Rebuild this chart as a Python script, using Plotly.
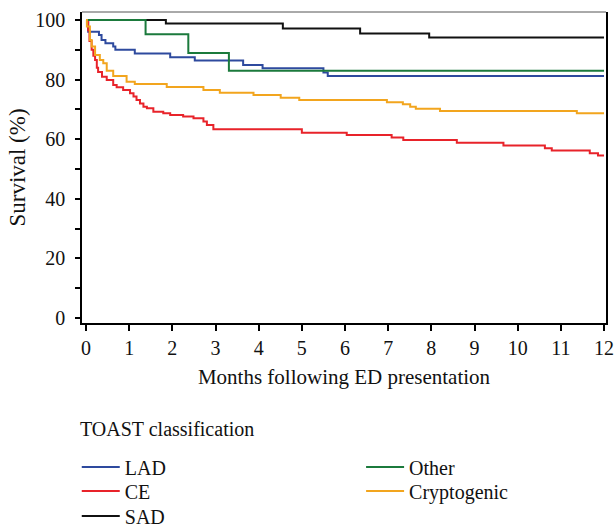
import plotly.graph_objects as go

# ---- data ----
lad_t = [0, 0.05, 0.3, 0.36, 0.45, 0.63, 0.68, 1.13, 1.95, 2.52, 3.64, 4.09, 5.5, 5.6, 12]
lad_s = [100, 96.1, 95.0, 93.3, 92.2, 91.1, 90.0, 88.8, 87.5, 86.4, 84.9, 83.8, 82.4, 81.2, 81.2]

ce_t = [0, 0.05, 0.08, 0.13, 0.17, 0.21, 0.25, 0.28, 0.37, 0.48, 0.63, 0.71, 0.86, 1.02, 1.10, 1.17,
        1.25, 1.33, 1.41, 1.56, 1.79, 1.95, 2.25, 2.49, 2.72, 2.80, 2.95, 5.0, 6.04, 7.08, 7.35,
        8.59, 9.67, 10.63, 10.79, 11.67, 11.86, 12]
ce_s = [100, 96.6, 93.0, 90.0, 88.0, 86.6, 84.0, 82.6, 81.0, 79.9, 78.2, 77.4, 76.5, 75.4, 74.3, 73.2,
        72.0, 70.9, 70.4, 69.2, 68.7, 68.1, 67.6, 67.0, 65.9, 64.8, 63.3, 62.2, 61.4, 60.6, 59.7,
        58.8, 57.9, 57.0, 56.2, 55.3, 54.5, 54.5]

sad_t = [0, 1.85, 4.56, 6.35, 7.95, 12]
sad_s = [100, 98.8, 97.2, 95.5, 94.1, 94.1]

other_t = [0, 1.38, 2.37, 3.31, 12]
other_s = [100, 95.2, 88.9, 83.0, 83.0]

cry_t = [0, 0.02, 0.09, 0.13, 0.21, 0.32, 0.40, 0.48, 0.63, 0.94, 1.13, 1.87, 2.72, 3.10, 3.88,
         4.51, 4.94, 6.97, 7.34, 7.51, 7.64, 8.20, 11.37, 12]
cry_s = [100, 97.8, 93.3, 91.1, 88.3, 86.6, 85.5, 83.0, 81.2, 79.3, 78.5, 77.5, 76.5, 75.6, 74.8,
         73.9, 73.2, 72.4, 71.7, 70.9, 70.2, 69.5, 68.7, 68.7]

x_ticks = list(range(0, 13))
y_ticks = [0, 20, 40, 60, 80, 100]

FONT = "Liberation Serif"

series = [
    ("LAD", lad_t, lad_s, "#2E4A9E", "legend"),
    ("CE", ce_t, ce_s, "#E8232A", "legend2"),
    ("SAD", sad_t, sad_s, "#111111", "legend3"),
    ("Other", other_t, other_s, "#1B7A3C", "legend4"),
    ("Cryptogenic", cry_t, cry_s, "#F2A51E", "legend5"),
]

fig = go.Figure()
for name, t, s, col, lg in series:
    fig.add_trace(go.Scatter(x=t, y=s, mode="lines", name=name, line=dict(color=col, width=2, shape="hv"),
                             legend=lg))

def leg(x, y):
    return dict(x=x, y=y, xanchor="left", yanchor="middle", orientation="v",
                font=dict(family=FONT, size=20), bgcolor="rgba(0,0,0,0)", itemwidth=38,
                borderwidth=0)

fig.update_layout(
    width=614, height=531,
    margin=dict(l=82, r=8, t=12, b=208, autoexpand=False),
    plot_bgcolor="white", paper_bgcolor="white",
    font=dict(family=FONT, size=20, color="#111111"),
    showlegend=True,
    legend=leg(-0.01, -0.463),
    legend2=leg(-0.01, -0.540),
    legend3=leg(-0.01, -0.6206),
    legend4=leg(0.5326, -0.463),
    legend5=leg(0.5326, -0.540),
)

fig.update_xaxes(
    range=[-0.093, 12.046], tickvals=x_ticks, ticktext=[str(v) for v in x_ticks],
    showline=True, linecolor="black", linewidth=1.5, mirror=False,
    ticks="outside", ticklen=6, tickwidth=2, tickcolor="black",
    showgrid=False, zeroline=False, automargin=False, ticklabelstandoff=0,
    ticklabeloverflow="allow",
    title=dict(text="Months following ED presentation", standoff=12, font=dict(size=21)),
    tickfont=dict(size=20),
)
fig.update_yaxes(
    range=[-1.7, 102.7], tickvals=y_ticks, ticktext=[str(v) for v in y_ticks],
    showline=True, linecolor="black", linewidth=1.5, mirror=True,
    ticks="outside", ticklen=5, tickwidth=2, tickcolor="black",
    minor=dict(tickvals=[10, 30, 50, 70, 90], ticks="outside", ticklen=5, tickwidth=2, tickcolor="black"),
    showgrid=False, zeroline=False, automargin=False, ticklabelstandoff=6,
    ticklabeloverflow="allow",
    title=dict(text="Survival (%)", standoff=3, font=dict(size=23)),
    tickfont=dict(size=20),
)

# thin grey top border
fig.add_shape(type="line", xref="paper", yref="paper", x0=0, x1=1, y0=1, y1=1,
              line=dict(color="#555555", width=1))

fig.add_annotation(text="TOAST classification", xref="paper", yref="paper", x=-0.008, y=-0.341,
                   xanchor="left", yanchor="middle", showarrow=False, font=dict(family=FONT, size=20))

fig.write_html("out.html", config={"displayModeBar": False},
               post_script="document.body.style.margin='0';document.body.style.padding='0';")
